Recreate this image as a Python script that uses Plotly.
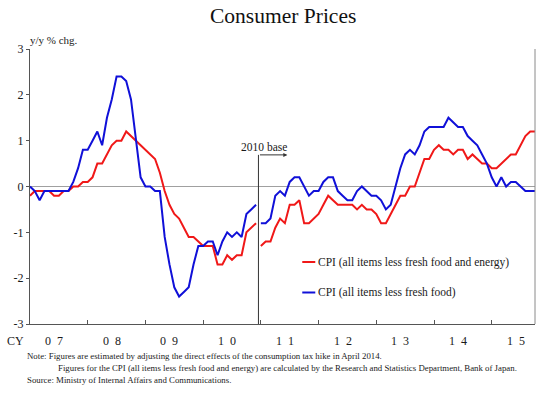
import plotly.graph_objects as go

# ---------------- data ----------------
year_labels = ["0\u20027", "0\u20028", "0\u20029", "1\u20020", "1\u20021",
               "1\u20022", "1\u20023", "1\u20024", "1\u20025"]
y_tick_vals = [3, 2, 1, 0, -1, -2, -3]
y_tick_text = ["3", "2", "1", "0", "-1", "-2", "-3"]
series_names = ["CPI (all items less fresh food and energy)",
                "CPI (all items less fresh food)"]

# CPI less fresh food (blue), 2005 base: Jan 2007 - Dec 2010
blue_2005 = [0.0, -0.1, -0.3, -0.1, -0.1, -0.1, -0.1, -0.1, -0.1, 0.1, 0.4, 0.8,
             0.8, 1.0, 1.2, 0.9, 1.5, 1.9, 2.4, 2.4, 2.3, 1.9, 1.0, 0.2,
             0.0, 0.0, -0.1, -0.1, -1.1, -1.7, -2.2, -2.4, -2.3, -2.2, -1.7, -1.3,
             -1.3, -1.2, -1.2, -1.5, -1.2, -1.0, -1.1, -1.0, -1.1, -0.6, -0.5, -0.4]
# 2010 base: Jan 2011 - Oct 2015
blue_2010 = [-0.8, -0.8, -0.7, -0.2, -0.1, -0.2, 0.1, 0.2, 0.2, 0.0, -0.2, -0.1,
             -0.1, 0.1, 0.2, 0.2, -0.1, -0.2, -0.3, -0.3, -0.1, 0.0, -0.1, -0.2,
             -0.2, -0.3, -0.5, -0.4, 0.0, 0.4, 0.7, 0.8, 0.7, 0.9, 1.2, 1.3,
             1.3, 1.3, 1.3, 1.5, 1.4, 1.3, 1.3, 1.1, 1.0, 0.9, 0.7, 0.5,
             0.2, 0.0, 0.2, 0.0, 0.1, 0.1, 0.0, -0.1, -0.1, -0.1]

# CPI less fresh food and energy (red)
red_2005 = [-0.2, -0.1, -0.1, -0.1, -0.1, -0.2, -0.2, -0.1, -0.1, 0.0, 0.0, 0.1,
            0.1, 0.2, 0.5, 0.5, 0.7, 0.9, 1.0, 1.0, 1.2, 1.1, 1.0, 0.9,
            0.8, 0.7, 0.6, 0.3, -0.1, -0.4, -0.6, -0.7, -0.9, -1.1, -1.1, -1.2,
            -1.3, -1.3, -1.3, -1.7, -1.7, -1.5, -1.6, -1.5, -1.5, -1.0, -0.9, -0.8]
red_2010 = [-1.3, -1.2, -1.2, -0.9, -0.7, -0.8, -0.4, -0.4, -0.3, -0.8, -0.8, -0.7,
            -0.6, -0.4, -0.2, -0.3, -0.4, -0.4, -0.4, -0.4, -0.5, -0.4, -0.5, -0.5,
            -0.6, -0.8, -0.8, -0.6, -0.4, -0.2, -0.2, 0.0, 0.0, 0.3, 0.6, 0.6,
            0.8, 0.9, 0.8, 0.8, 0.7, 0.8, 0.8, 0.6, 0.7, 0.6, 0.5, 0.5,
            0.4, 0.4, 0.5, 0.6, 0.7, 0.7, 0.9, 1.1, 1.2, 1.2]

RED = "#f01818"
BLUE = "#1010d8"
SERIF = "Liberation Serif, Times New Roman, serif"

n_old = len(blue_2005)
n_all = n_old + len(blue_2010)
x_old = list(range(n_old))
x_new = list(range(n_old, n_all))
x_max = n_all - 1

fig = go.Figure()
for xs, ys in ((x_old, red_2005), (x_new, red_2010)):
    fig.add_trace(go.Scatter(x=xs, y=ys, mode="lines", line=dict(color=RED, width=2),
                             showlegend=False, hoverinfo="skip"))
for xs, ys in ((x_old, blue_2005), (x_new, blue_2010)):
    fig.add_trace(go.Scatter(x=xs, y=ys, mode="lines", line=dict(color=BLUE, width=2),
                             showlegend=False, hoverinfo="skip"))

AX = "#555555"
fig.update_layout(
    width=540, height=394,
    margin=dict(l=30, r=5, t=49, b=70),
    paper_bgcolor="white", plot_bgcolor="white",
    font=dict(family=SERIF, color="#1a1a1a", size=11),
    showlegend=False,
    xaxis=dict(range=[0, x_max], showgrid=False, zeroline=False,
               showline=True, linecolor=AX, linewidth=1,
               tickvals=[12 * i for i in range(len(year_labels))],
               ticks="inside", ticklen=4, tickcolor=AX, showticklabels=False),
    yaxis=dict(range=[-3, 3], showgrid=False,
               zeroline=True, zerolinecolor="#a0a0a0", zerolinewidth=1,
               showline=True, linecolor=AX, linewidth=1,
               tickvals=y_tick_vals, ticktext=y_tick_text,
               ticks="outside", ticklen=3, tickcolor=AX,
               tickfont=dict(family=SERIF, size=12, color="#1a1a1a")),
)

# right border
fig.add_shape(type="line", xref="paper", yref="y", x0=1, x1=1, y0=-3, y1=3,
              line=dict(color="#8a8a8a", width=1))

# 2010 base marker
brk = n_old - 0.5
fig.add_shape(type="line", xref="x", yref="y", x0=brk, x1=brk, y0=-3, y1=0.69,
              line=dict(color="#333333", width=1))
fig.add_annotation(x=brk + 6, y=0.69, ax=brk, ay=0.69, axref="x", ayref="y",
                   xref="x", yref="y", text="", showarrow=True,
                   arrowhead=2, arrowsize=0.8, arrowwidth=1, arrowcolor="#333333")
fig.add_annotation(x=brk + 1.2, y=0.87, xref="x", yref="y", text="2010 base",
                   showarrow=False, font=dict(family=SERIF, size=11.5),
                   xanchor="center", yanchor="middle")

# title & axis unit
fig.add_annotation(x=0.5, y=(324 - 16) / 275, xref="paper", yref="paper",
                   text="Consumer Prices", showarrow=False,
                   font=dict(family=SERIF, size=21.5, color="#111"),
                   xanchor="center", yanchor="middle")
fig.add_annotation(x=-0.004, y=(324 - 40) / 275, xref="paper", yref="paper",
                   text="y/y % chg.", showarrow=False,
                   font=dict(family=SERIF, size=11), xanchor="left", yanchor="middle")

# year labels
for i, lab in enumerate(year_labels):
    fig.add_annotation(x=12 * i + 5, y=(324 - 341) / 275, xref="x", yref="paper",
                       text=lab, showarrow=False, font=dict(family=SERIF, size=12),
                       xanchor="center", yanchor="middle")
fig.add_annotation(x=(26 - 30) / 504.5, y=(324 - 341) / 275, xref="paper", yref="paper",
                   text="CY", showarrow=False, font=dict(family=SERIF, size=12),
                   xanchor="right", yanchor="middle")

# manual legend
for (name, col, py) in ((series_names[0], RED, 262), (series_names[1], BLUE, 292.5)):
    yp = (324 - py) / 275
    fig.add_shape(type="line", xref="paper", yref="paper",
                  x0=(302 - 30) / 504.5, x1=(315 - 30) / 504.5, y0=yp, y1=yp,
                  line=dict(color=col, width=2))
    fig.add_annotation(x=(316 - 30) / 504.5, y=yp, xref="paper", yref="paper",
                       text=name, showarrow=False, font=dict(family=SERIF, size=11.5),
                       xanchor="left", yanchor="middle")

# notes
notes = [
    (25, 356, "Note: Figures are estimated by adjusting the direct effects of the consumption tax hike in April 2014."),
    (56, 368, "Figures for the CPI (all items less fresh food and energy) are calculated by the Research and Statistics Department, Bank of Japan."),
    (25, 380, "Source: Ministry of Internal Affairs and Communications."),
]
for px, py, txt in notes:
    fig.add_annotation(x=(px - 30) / 504.5, y=(324 - py) / 275, xref="paper", yref="paper",
                       text=txt, showarrow=False, font=dict(family=SERIF, size=8.8),
                       xanchor="left", yanchor="middle")

fig.write_html("out.html", config={"displayModeBar": False},
               post_script="document.body.style.margin='0';")
